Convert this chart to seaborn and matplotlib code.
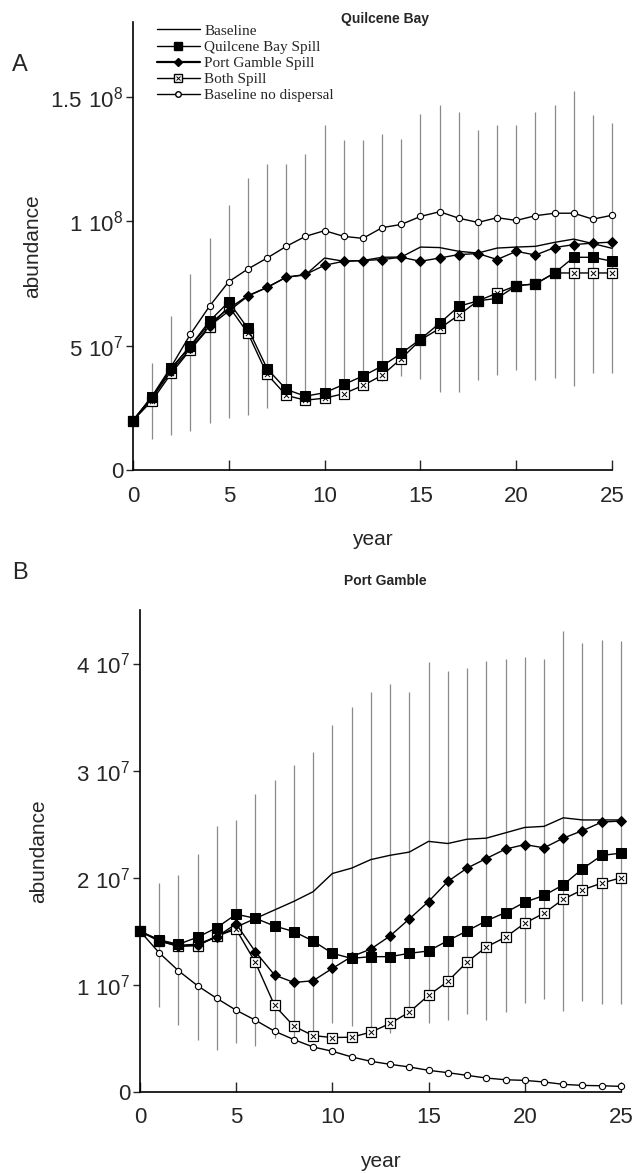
import numpy as np
import pandas as pd
import matplotlib
matplotlib.use('Agg')
import matplotlib.pyplot as plt
import seaborn as sns
from matplotlib.lines import Line2D
from matplotlib.legend_handler import HandlerTuple

years = list(range(26))

# Panel A - Quilcene Bay
qb_baseline = [2.0e7, 2.95e7, 4.1e7, 5.0e7, 5.9e7, 6.5e7, 7.02e7, 7.35e7, 7.76e7, 7.85e7,
               8.53e7, 8.4e7, 8.43e7, 8.56e7, 8.57e7, 8.97e7, 8.95e7, 8.8e7, 8.73e7, 8.93e7,
               8.97e7, 9.0e7, 9.16e7, 9.29e7, 9.11e7, 8.92e7]
qb_qbspill = [2.0e7, 2.95e7, 4.1e7, 5.0e7, 6.0e7, 6.77e7, 5.7e7, 4.09e7, 3.25e7, 2.98e7,
              3.12e7, 3.45e7, 3.79e7, 4.19e7, 4.7e7, 5.27e7, 5.91e7, 6.59e7, 6.81e7, 6.91e7,
              7.42e7, 7.49e7, 7.93e7, 8.56e7, 8.56e7, 8.4e7]
qb_pgspill = [2.0e7, 2.9e7, 4.0e7, 4.9e7, 5.8e7, 6.4e7, 7.0e7, 7.35e7, 7.76e7, 7.87e7,
              8.24e7, 8.4e7, 8.43e7, 8.47e7, 8.56e7, 8.4e7, 8.53e7, 8.67e7, 8.71e7, 8.47e7,
              8.8e7, 8.65e7, 8.95e7, 9.07e7, 9.13e7, 9.17e7]
qb_both = [2.0e7, 2.8e7, 3.9e7, 4.85e7, 5.75e7, 6.59e7, 5.51e7, 3.86e7, 3.01e7, 2.82e7,
           2.9e7, 3.08e7, 3.41e7, 3.82e7, 4.49e7, 5.24e7, 5.7e7, 6.24e7, 6.81e7, 7.12e7,
           7.42e7, 7.49e7, 7.93e7, 7.93e7, 7.93e7, 7.93e7]
qb_nodisp = [2.0e7, 2.98e7, 4.17e7, 5.47e7, 6.6e7, 7.58e7, 8.09e7, 8.53e7, 9.0e7, 9.4e7,
             9.63e7, 9.4e7, 9.32e7, 9.75e7, 9.88e7, 1.02e8, 1.039e8, 1.013e8, 9.96e7, 1.015e8,
             1.004e8, 1.023e8, 1.033e8, 1.033e8, 1.009e8, 1.025e8]
qb_upper = [2.0e7, 4.33e7, 6.2e7, 7.9e7, 9.33e7, 1.067e8, 1.176e8, 1.231e8, 1.231e8, 1.271e8,
            1.387e8, 1.327e8, 1.329e8, 1.353e8, 1.331e8, 1.431e8, 1.469e8, 1.44e8, 1.367e8, 1.389e8,
            1.389e8, 1.44e8, 1.469e8, 1.523e8, 1.427e8, 1.396e8]
qb_lower = [2.0e7, 1.26e7, 1.44e7, 1.57e7, 1.91e7, 2.11e7, 2.22e7, 2.51e7, 3.2e7, 3.0e7,
            3.2e7, 3.5e7, 3.57e7, 3.6e7, 3.8e7, 3.66e7, 3.15e7, 3.15e7, 3.62e7, 3.82e7,
            4.03e7, 3.63e7, 3.72e7, 3.39e7, 3.9e7, 3.9e7]

# Panel B - Port Gamble
pg_baseline = [1.5e7, 1.42e7, 1.37e7, 1.38e7, 1.45e7, 1.54e7, 1.62e7, 1.7e7, 1.78e7, 1.87e7,
               2.04e7, 2.09e7, 2.17e7, 2.21e7, 2.24e7, 2.34e7, 2.32e7, 2.36e7, 2.37e7, 2.42e7,
               2.47e7, 2.48e7, 2.56e7, 2.54e7, 2.54e7, 2.54e7]
pg_qbspill = [1.5e7, 1.42e7, 1.38e7, 1.445e7, 1.535e7, 1.66e7, 1.622e7, 1.55e7, 1.498e7, 1.41e7,
              1.295e7, 1.248e7, 1.264e7, 1.264e7, 1.295e7, 1.317e7, 1.413e7, 1.504e7, 1.598e7, 1.676e7,
              1.772e7, 1.835e7, 1.934e7, 2.084e7, 2.209e7, 2.23e7]
pg_pgspill = [1.5e7, 1.41e7, 1.36e7, 1.37e7, 1.45e7, 1.57e7, 1.31e7, 1.092e7, 1.023e7, 1.039e7,
              1.154e7, 1.264e7, 1.335e7, 1.457e7, 1.616e7, 1.778e7, 1.966e7, 2.09e7, 2.18e7, 2.268e7,
              2.31e7, 2.28e7, 2.37e7, 2.44e7, 2.52e7, 2.53e7]
pg_both = [1.504e7, 1.413e7, 1.363e7, 1.367e7, 1.457e7, 1.52e7, 1.211e7, 8.08e6, 6.15e6, 5.27e6,
           5.09e6, 5.12e6, 5.59e6, 6.4e6, 7.46e6, 9.02e6, 1.033e7, 1.214e7, 1.354e7, 1.445e7,
           1.576e7, 1.669e7, 1.8e7, 1.888e7, 1.95e7, 2.0e7]
pg_nodisp = [1.504e7, 1.3e7, 1.133e7, 9.92e6, 8.74e6, 7.64e6, 6.71e6, 5.68e6, 4.9e6, 4.21e6,
             3.81e6, 3.28e6, 2.87e6, 2.59e6, 2.34e6, 2.03e6, 1.81e6, 1.56e6, 1.31e6, 1.15e6,
             1.09e6, 0.94e6, 0.72e6, 0.62e6, 0.59e6, 0.53e6]
pg_upper = [1.5e7, 1.95e7, 2.03e7, 2.22e7, 2.48e7, 2.54e7, 2.78e7, 2.91e7, 3.05e7, 3.17e7,
            3.43e7, 3.59e7, 3.73e7, 3.81e7, 3.73e7, 4.01e7, 3.93e7, 3.96e7, 4.02e7, 4.04e7,
            4.06e7, 4.04e7, 4.3e7, 4.19e7, 4.22e7, 4.21e7]
pg_lower = [1.5e7, 7.96e6, 6.24e6, 4.84e6, 3.9e6, 4.59e6, 4.27e6, 5.0e6, 5.1e6, 5.7e6,
            6.4e6, 6.2e6, 5.8e6, 5.5e6, 7.5e6, 6.4e6, 6.7e6, 7.3e6, 6.7e6, 7.5e6,
            8.3e6, 8.7e6, 7.6e6, 8.5e6, 8.2e6, 8.2e6]

labels = ['Baseline', 'Quilcene Bay Spill', 'Port Gamble Spill', 'Both Spill', 'Baseline no dispersal']

sns.set_style('ticks')
plt.rcParams['font.family'] = ['Liberation Sans', 'DejaVu Sans']
plt.rcParams['mathtext.default'] = 'regular'


def draw_panel(ax, base, qb, pg, both, nodisp, lo, hi, ylabelpad):
    ax.vlines(years[1:], lo[1:], hi[1:], color='#8a8a8a', lw=0.9, zorder=1)
    kw = dict(color='black', lw=1.0, ax=ax, legend=False)
    sns.lineplot(x=years, y=base, **kw)
    sns.lineplot(x=years, y=nodisp, marker='o', markersize=4.5, markerfacecolor='white',
                 markeredgecolor='black', markeredgewidth=0.8, **kw)
    sns.lineplot(x=years, y=both, marker='s', markersize=7, markerfacecolor='white',
                 markeredgecolor='black', markeredgewidth=0.9, **kw)
    sns.scatterplot(x=years, y=both, marker='x', s=14, color='black', linewidth=0.7,
                    ax=ax, legend=False, zorder=5)
    sns.lineplot(x=years, y=pg, marker='D', markersize=5, markerfacecolor='black',
                 markeredgecolor='black', **kw)
    sns.lineplot(x=years, y=qb, marker='s', markersize=7, markerfacecolor='black',
                 markeredgecolor='black', **kw)
    for art in ax.lines + ax.collections:
        art.set_clip_on(False)
    ax.set_xlim(0, 25)
    ax.set_xticks([0, 5, 10, 15, 20, 25])
    ax.tick_params(axis='x', direction='in', length=7, width=1, labelsize=16, pad=11)
    ax.tick_params(axis='y', direction='out', length=5, width=1, labelsize=16, pad=2)
    sns.despine(ax=ax)
    for s in ['left', 'bottom']:
        ax.spines[s].set_linewidth(1.2)
        ax.spines[s].set_color('black')
    ax.set_xlabel('year', fontsize=15, labelpad=17)
    ax.set_ylabel('abundance', fontsize=15, labelpad=ylabelpad)


fig = plt.figure(figsize=(6.33, 11.73), dpi=100)
axA = fig.add_axes([0.210, 0.599, 0.757, 0.382])
axB = fig.add_axes([0.221, 0.069, 0.760, 0.411])

draw_panel(axA, qb_baseline, qb_qbspill, qb_pgspill, qb_both, qb_nodisp, qb_lower, qb_upper, 6)
axA.set_ylim(0, 1.8e8)
axA.set_yticks([0, 5e7, 1e8, 1.5e8])
axA.set_yticklabels(['0', '$5\\ 10^{7}$', '$1\\ 10^{8}$', '$1.5\\ 10^{8}$'])

draw_panel(axB, pg_baseline, pg_qbspill, pg_pgspill, pg_both, pg_nodisp, pg_lower, pg_upper, 20)
axB.set_ylim(0, 4.5e7)
axB.set_yticks([0, 1e7, 2e7, 3e7, 4e7])
axB.set_yticklabels(['0', '$1\\ 10^{7}$', '$2\\ 10^{7}$', '$3\\ 10^{7}$', '$4\\ 10^{7}$'])

fig.text(0.608, 0.984, 'Quilcene Bay', ha='center', va='center', fontsize=10, fontweight='bold')
fig.text(0.608, 0.5047, 'Port Gamble', ha='center', va='center', fontsize=10, fontweight='bold')
fig.text(0.032, 0.9446, 'A', ha='center', va='center', fontsize=17)
fig.text(0.032, 0.5115, 'B', ha='center', va='center', fontsize=17)

# legend
h_base = Line2D([], [], color='black', lw=1.0)
h_qb = Line2D([], [], color='black', lw=1.0, marker='s', markersize=6, markerfacecolor='black')
h_pg = Line2D([], [], color='black', lw=1.6, marker='D', markersize=4.5, markerfacecolor='black')
h_both = (Line2D([], [], color='black', lw=1.0, marker='s', markersize=6, markerfacecolor='white'),
          Line2D([], [], ls='none', marker='x', markersize=3.5, color='black', mew=0.7))
h_nd = Line2D([], [], color='black', lw=1.0, marker='o', markersize=4, markerfacecolor='white')
axA.legend([h_base, h_qb, h_pg, h_both, h_nd], labels,
           handler_map={tuple: HandlerTuple(ndivide=1, pad=0)},
           loc='upper left', bbox_to_anchor=(0.0375, 1.0095), frameon=False,
           prop={'family': 'Liberation Serif', 'size': 11},
           handlelength=2.8, handletextpad=0.3, labelspacing=0.16, borderaxespad=0)

fig.savefig('out.png', dpi=100)
